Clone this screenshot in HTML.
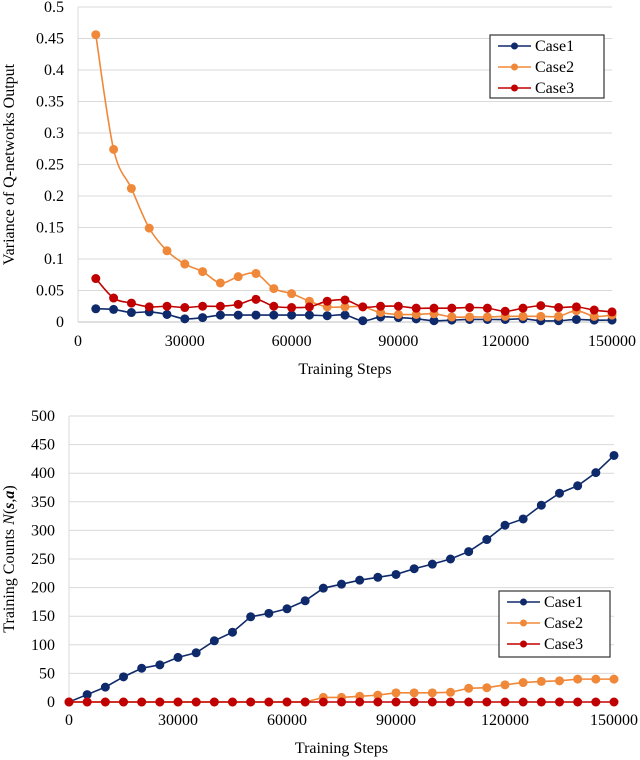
<!DOCTYPE html>
<html><head><meta charset="utf-8"><style>
body{margin:0;background:#fff;}
svg{display:block;font-family:"Liberation Serif",serif;}
</style></head><body>
<svg id="root" width="640" height="760"></svg>
<script>
const stepsTop = [];
for (let s = 5000; s <= 150000; s += 5000) stepsTop.push(s);
const varCase1 = [0.021,0.020,0.015,0.016,0.012,0.005,0.007,0.011,0.011,0.011,0.011,0.011,0.011,0.010,0.011,0.002,0.008,0.007,0.005,0.002,0.003,0.004,0.004,0.004,0.005,0.002,0.002,0.004,0.003,0.003];
const varCase2 = [0.456,0.274,0.212,0.149,0.113,0.092,0.080,0.062,0.072,0.077,0.053,0.045,0.033,0.024,0.024,0.024,0.015,0.012,0.012,0.013,0.008,0.008,0.008,0.009,0.009,0.009,0.009,0.018,0.009,0.011];
const varCase3 = [0.069,0.038,0.030,0.024,0.025,0.023,0.025,0.025,0.028,0.036,0.025,0.023,0.024,0.033,0.035,0.024,0.025,0.025,0.022,0.022,0.022,0.023,0.022,0.017,0.022,0.026,0.023,0.024,0.019,0.016];
const yTicksTop = ["0","0.05","0.1","0.15","0.2","0.25","0.3","0.35","0.4","0.45","0.5"];
const xTicks = ["0","30000","60000","90000","120000","150000"];
const stepsBot = [];
for (let s = 0; s <= 150000; s += 5000) stepsBot.push(s);
const cntCase1 = [0,13,26,44,59,65,78,86,107,122,149,155,163,177,199,206,213,218,223,233,241,250,263,284,309,320,344,365,378,401,431];
const cntCase2 = [0,0,0,0,0,0,0,0,0,0,0,0,0,0,8,8,10,12,16,16,16,17,24,25,30,34,36,37,40,40,40];
const cntCase3 = [0,0,0,0,0,0,0,0,0,0,0,0,0,0,0,0,0,0,0,0,0,0,0,0,0,0,0,0,0,0,0];
const yTicksBot = ["0","50","100","150","200","250","300","350","400","450","500"];
const colors = {c1:"#0f2a6b", c2:"#f0883a", c3:"#c00000"};

const NS = "http://www.w3.org/2000/svg";
const root = document.getElementById('root');
function mk(tag, attrs, parent){const e=document.createElementNS(NS,tag);for(const k in attrs)e.setAttribute(k,attrs[k]);(parent||root).appendChild(e);return e;}

function smoothPath(pts){
  let d = "M"+pts[0][0]+","+pts[0][1];
  for(let i=0;i<pts.length-1;i++){
    const p0=pts[i-1]||pts[i], p1=pts[i], p2=pts[i+1], p3=pts[i+2]||p2;
    const c1x=p1[0]+(p2[0]-p0[0])/6, c1y=p1[1]+(p2[1]-p0[1])/6;
    const c2x=p2[0]-(p3[0]-p1[0])/6, c2y=p2[1]-(p3[1]-p1[1])/6;
    d+=" C"+c1x+","+c1y+" "+c2x+","+c2y+" "+p2[0]+","+p2[1];
  }
  return d;
}

function chart(o){
  const g = mk('g',{});
  
  
  const sx = v => o.x0 + (v/o.xmax)*(o.x1-o.x0);
  const sy = v => o.y0 - (v/o.ymax)*(o.y0-o.y1);
  o.yTicks.forEach((t,i)=>{
    const v = o.ymax*i/(o.yTicks.length-1);
    const ln = mk('line',{x1:o.x0,x2:o.x1,y1:sy(v),y2:sy(v),stroke:i===0?"#bfbfbf":"#d9d9d9","stroke-width":1},g);
    
    
    const tx = mk('text',{x:o.ylabX,y:sy(v)+5,"text-anchor":"end","font-size":16,fill:"#000"},g);
    tx.textContent=t;
    
    
  });
  mk('line',{x1:o.x0,x2:o.x0,y1:o.y1,y2:o.y0,stroke:"#d9d9d9"},g);
  xTicks.forEach((t,i)=>{
    const v = o.xmax*i/(xTicks.length-1);
    const tx = mk('text',{x:sx(v),y:o.xlabY,"text-anchor":"middle","font-size":16,fill:"#000"},g);
    tx.textContent=t;
    
    
  });
  const xt = mk('text',{x:(o.x0+o.x1)/2,y:o.xTitleY,"text-anchor":"middle","font-size":16},g);
  xt.textContent="Training Steps";
  
  
  const yt = mk('text',{x:0,y:0,"text-anchor":"middle","font-size":16,transform:"translate("+o.yTitleX+","+(o.y0+o.y1)/2+") rotate(-90)"},g);
  yt.innerHTML=o.yTitle;
  
  
  o.series.forEach(s=>{
    const pts = s.vals.map((v,i)=>[sx(o.xs[i]),sy(v)]);
    const p = mk('path',{d:o.smooth?smoothPath(pts):"M"+pts.map(p=>p.join(",")).join(" L"),fill:"none",stroke:s.color,"stroke-width":1.6},g);
    
    
    pts.forEach(pt=>{
      const c = mk('circle',{cx:pt[0],cy:pt[1],r:4.5,fill:s.color},g);
      
      
    });
  });
  const L = o.legend;
  const lg = mk('g',{},g);
  
  
  mk('rect',{x:L.x,y:L.y,width:L.w,height:L.h,fill:"#fff",stroke:"#333","stroke-width":1.2},lg);
  o.series.forEach((s,i)=>{
    const yy = L.y+11+i*21;
    mk('line',{x1:L.x+8,x2:L.x+41,y1:yy,y2:yy,stroke:s.color,"stroke-width":1.6},lg);
    mk('circle',{cx:L.x+24.5,cy:yy,r:3.5,fill:s.color},lg);
    const t = mk('text',{x:L.x+45,y:yy+5,"font-size":16},lg);
    t.textContent=s.label;
    
    
  });
}

chart({name:"variance-chart",x0:78,x1:612,y0:322,y1:7,xmax:150000,ymax:0.5,yTicks:yTicksTop,ylabX:64,xlabY:346,xTitleY:374,yTitleX:14,
  yTitle:"Variance of Q-networks Output",xs:stepsTop,smooth:true,
  series:[{key:"case1",label:"Case1",vals:varCase1,color:colors.c1},{key:"case2",label:"Case2",vals:varCase2,color:colors.c2},{key:"case3",label:"Case3",vals:varCase3,color:colors.c3}],
  legend:{x:490,y:35,w:114,h:63}});

chart({name:"training-counts-chart",x0:69,x1:614,y0:702,y1:416,xmax:150000,ymax:500,yTicks:yTicksBot,ylabX:55,xlabY:725,xTitleY:753,yTitleX:14,
  yTitle:"Training Counts <tspan font-style='italic'>N</tspan>(<tspan font-style='italic' font-weight='bold'>s</tspan>,<tspan font-style='italic' font-weight='bold'>a</tspan>)",xs:stepsBot,smooth:false,
  series:[{key:"case1",label:"Case1",vals:cntCase1,color:colors.c1},{key:"case2",label:"Case2",vals:cntCase2,color:colors.c2},{key:"case3",label:"Case3",vals:cntCase3,color:colors.c3}],
  legend:{x:499,y:591,w:111,h:66}});
</script>
</body></html>
